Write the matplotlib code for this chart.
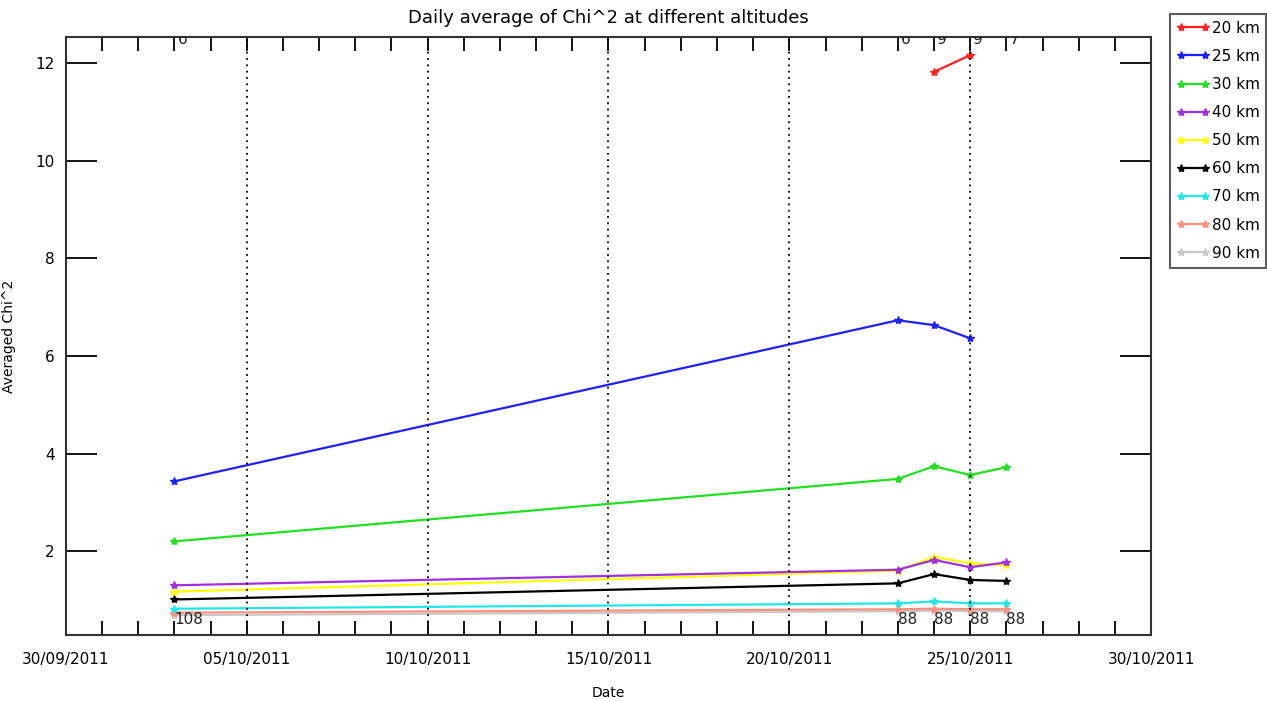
import numpy as np
import matplotlib
matplotlib.use("Agg")
import matplotlib.pyplot as plt
import matplotlib.dates as mdates
from datetime import datetime, timedelta

# Dates of the daily averages
dates = [datetime(2011, 10, 3), datetime(2011, 10, 23), datetime(2011, 10, 24),
         datetime(2011, 10, 25), datetime(2011, 10, 26)]

nan = np.nan
chi2_20 = [nan, nan, 11.82, 12.16, nan]
chi2_25 = [3.43, 6.73, 6.63, 6.36, nan]
chi2_30 = [2.20, 3.48, 3.74, 3.56, 3.72]
chi2_40 = [1.30, 1.62, 1.82, 1.67, 1.77]
chi2_50 = [1.17, 1.60, 1.88, 1.75, 1.71]
chi2_60 = [1.01, 1.34, 1.53, 1.41, 1.39]
chi2_70 = [0.82, 0.93, 0.97, 0.93, 0.93]
chi2_80 = [0.74, 0.81, 0.82, 0.81, 0.81]
chi2_90 = [0.69, 0.77, 0.78, 0.77, 0.77]

labels = ["20 km", "25 km", "30 km", "40 km", "50 km", "60 km", "70 km", "80 km", "90 km"]
colors = ["#ff2020", "#2020ff", "#20e020", "#a030e0", "#ffff00", "#000000",
          "#20e8e8", "#ff9080", "#c8c8c8"]
series = [chi2_20, chi2_25, chi2_30, chi2_40, chi2_50, chi2_60, chi2_70, chi2_80, chi2_90]

# Number of profiles per day (top: 20 km, bottom: 90 km)
top_counts = ["6", "6", "9", "9", "7"]
bottom_counts = ["108", "88", "88", "88", "88"]

fig = plt.figure(figsize=(12.67, 7.01), dpi=100)
ax = fig.add_axes([0.052, 0.094, 0.8565, 0.853])

# Draw from the bottom series up so the upper ones sit on top
for vals, col, lab in reversed(list(zip(series, colors, labels))):
    ax.plot(dates, vals, color=col, lw=1.6, marker="*", ms=6, label=lab)

# Dotted verticals every 5 days
for d in [5, 10, 15, 20, 25]:
    ax.axvline(datetime(2011, 10, d), color="black", ls=(0, (1, 2.5)), lw=1.3)

ax.set_xlim(datetime(2011, 9, 30), datetime(2011, 10, 30))
ax.set_ylim(0.28, 12.53)

ax.xaxis.set_major_locator(mdates.DayLocator(bymonthday=[5, 10, 15, 20, 25, 30]))
ax.xaxis.set_major_formatter(mdates.DateFormatter("%d/%m/%Y"))
ax.xaxis.set_minor_locator(mdates.DayLocator())
ax.set_yticks([2, 4, 6, 8, 10, 12])

ax.tick_params(axis="x", which="major", direction="in", length=10, width=1.3,
               top=True, labelsize=11, pad=12)
ax.tick_params(axis="x", which="minor", direction="in", length=10, width=1.3, top=True)
ax.tick_params(axis="y", which="major", direction="in", length=22, width=1.3,
               right=True, labelsize=11, pad=8)
for sp in ax.spines.values():
    sp.set_linewidth(1.5)
    sp.set_color("#333333")

for d, t in zip(dates, top_counts):
    ax.text(d + timedelta(hours=2), 12.49, t, fontsize=11, color="#222222",
            ha="left", va="center", clip_on=True)
for d, t in zip(dates, bottom_counts):
    ax.text(d, 0.59, t, fontsize=11, color="#222222", ha="left", va="center")

ax.set_title("Daily average of Chi^2 at different altitudes", fontsize=13, pad=10)
ax.set_xlabel("Date", fontsize=10, labelpad=14)
ax.set_ylabel("Averaged Chi^2", fontsize=10, labelpad=14)

handles, labs = ax.get_legend_handles_labels()
leg = ax.legend(handles[::-1], labs[::-1], loc="upper left", bbox_to_anchor=(1.01, 1.052),
                numpoints=2, fontsize=11, frameon=True, fancybox=False,
                handlelength=2.2, handletextpad=0.1, labelspacing=0.86, borderpad=0.45)
leg.get_frame().set_edgecolor("#333333")
leg.get_frame().set_linewidth(1.5)

fig.savefig("out.png", dpi=100)
